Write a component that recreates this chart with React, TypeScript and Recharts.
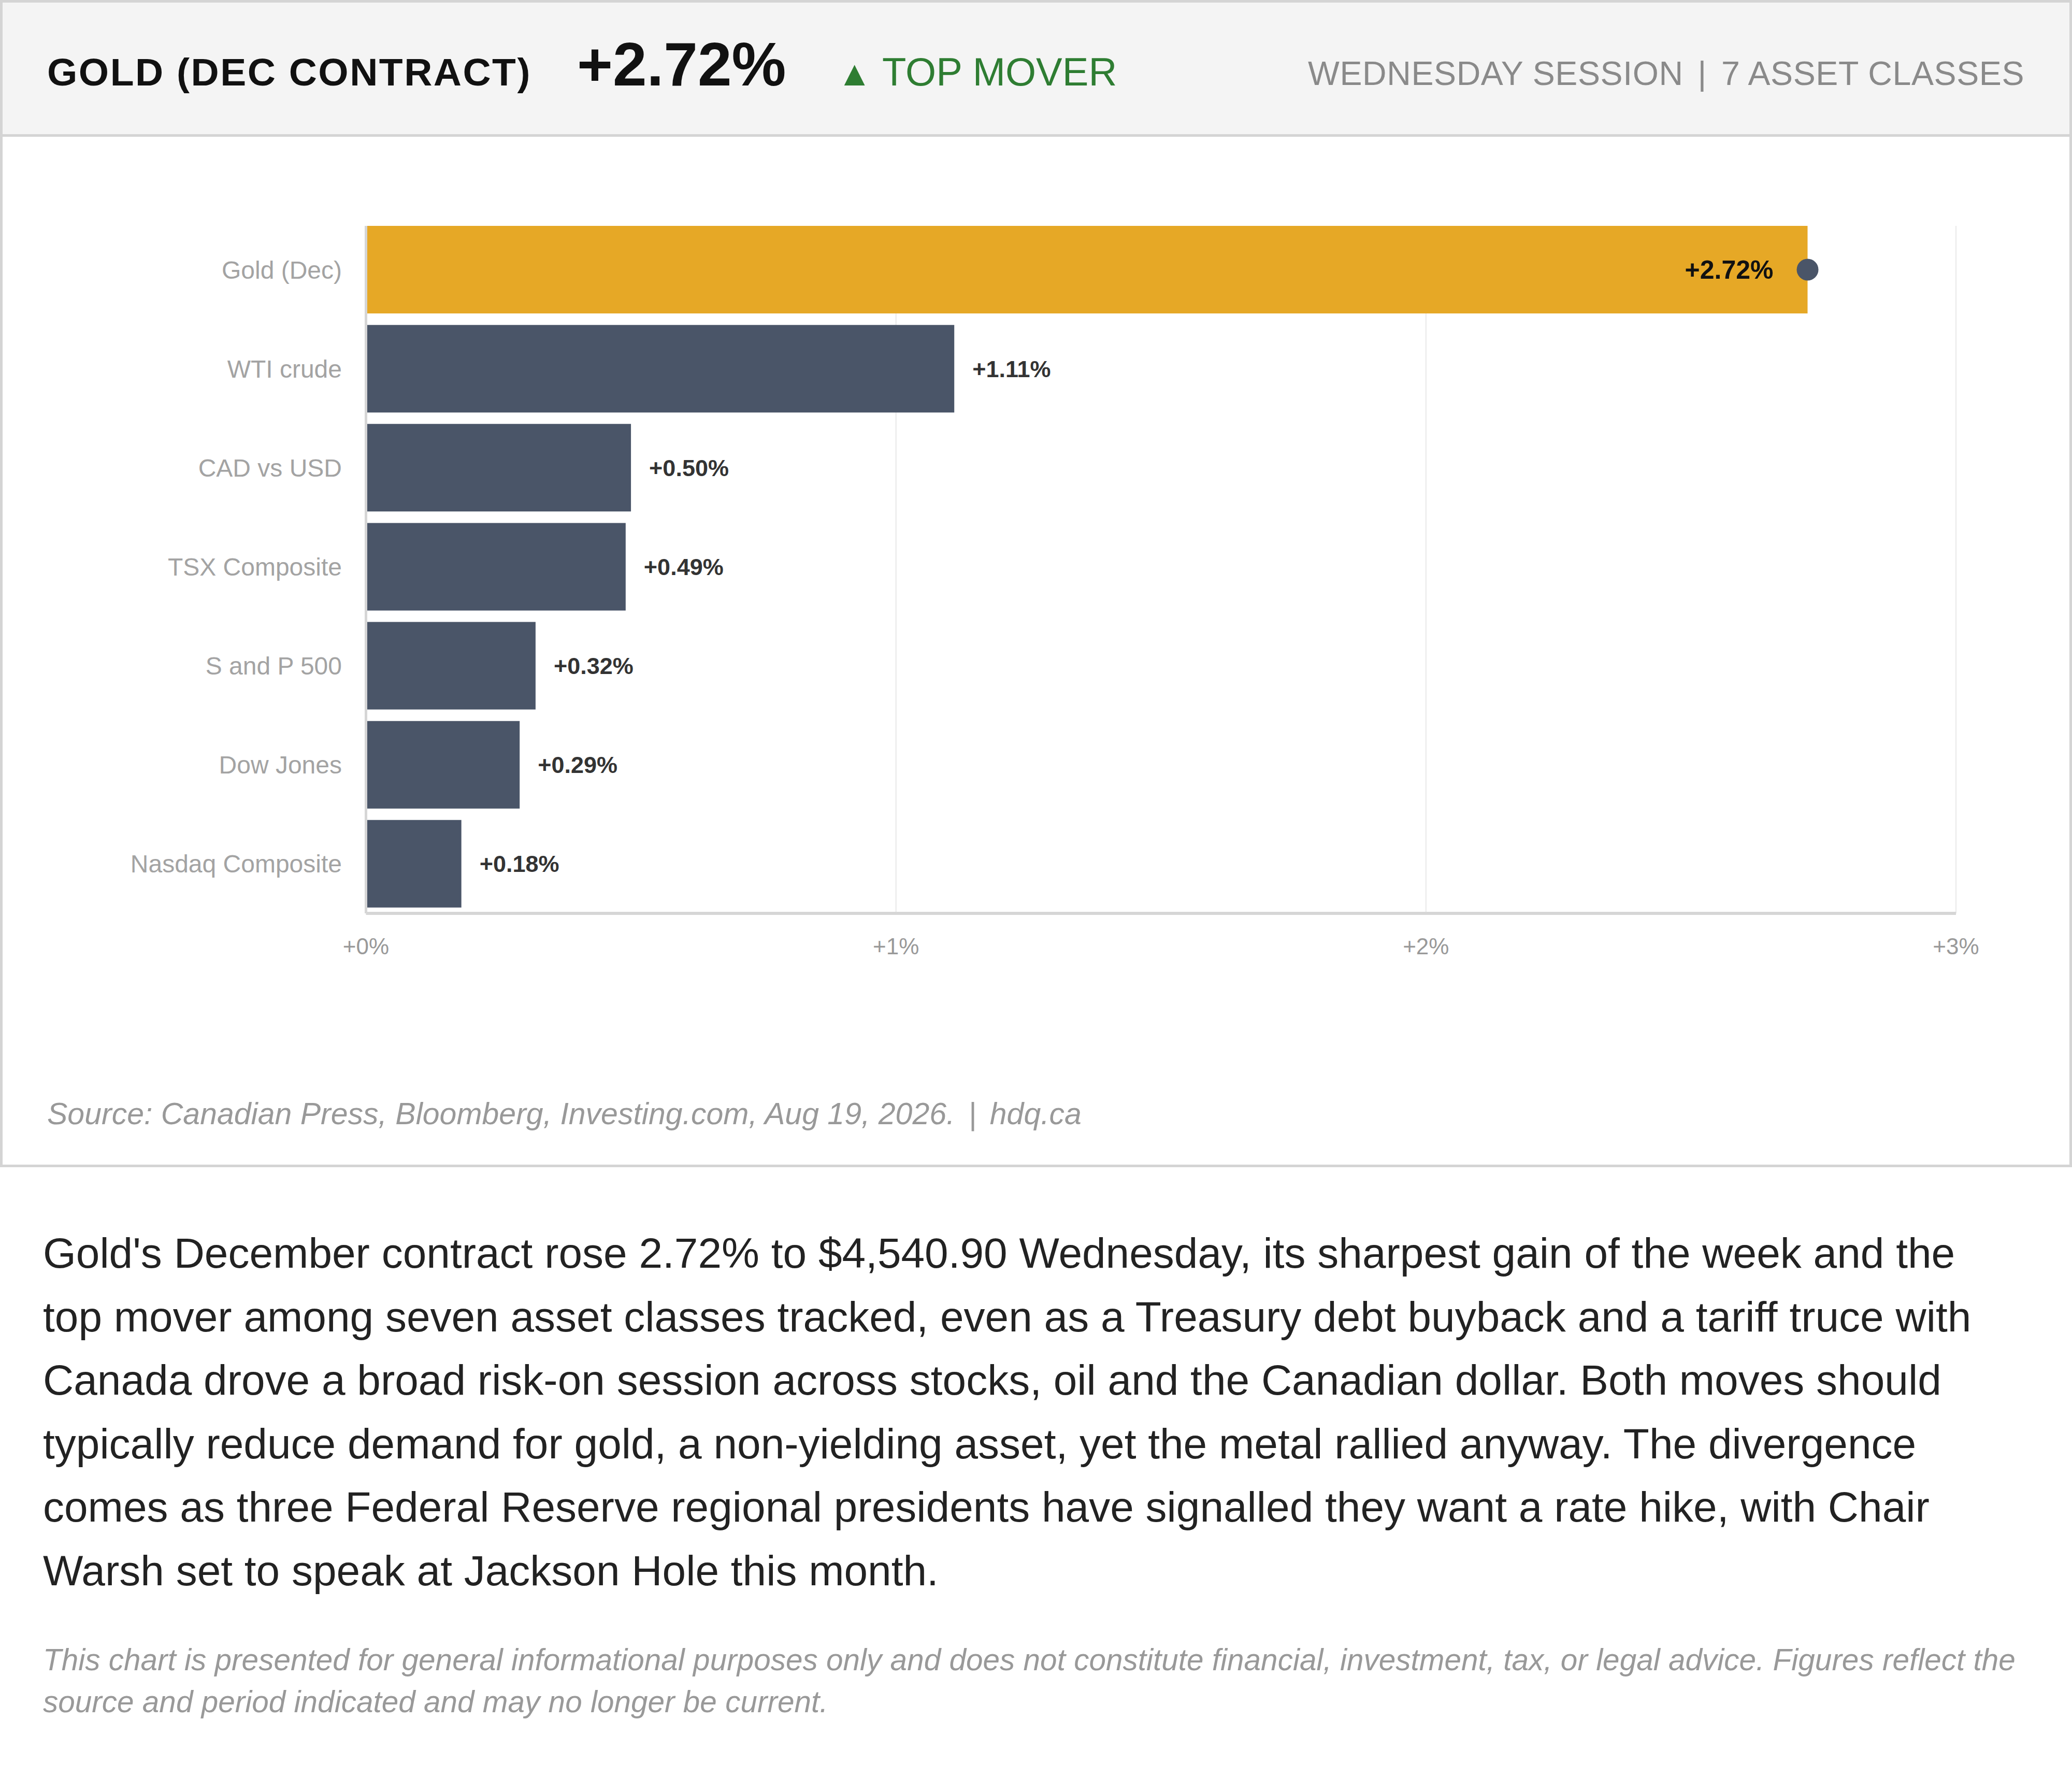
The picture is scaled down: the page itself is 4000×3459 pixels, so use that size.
import React from "react";
import {
  BarChart,
  Bar,
  XAxis,
  YAxis,
  CartesianGrid,
  Cell,
  LabelList,
} from "recharts";

// Session moves, top to bottom as drawn
const assets = [
  "Gold (Dec)",
  "WTI crude",
  "CAD vs USD",
  "TSX Composite",
  "S and P 500",
  "Dow Jones",
  "Nasdaq Composite",
];
const changes = [2.72, 1.11, 0.5, 0.49, 0.32, 0.29, 0.18];
const xTicks = [0, 1, 2, 3];
const topMover = "Gold (Dec)";

const GOLD = "#E6A826";
const SLATE = "#4A5568";
const FONT = '"Liberation Sans", Arial, Helvetica, sans-serif';

const pct = (v: number) => `+${v.toFixed(2)}%`;

// baseline -> top for a line box whose line-height equals the font size
const topFor = (baseline: number, size: number) => baseline - 0.8465 * size;

const ValueLabel = (props: any) => {
  const { x, y, width, height, index } = props;
  const cy = y + height / 2;
  const end = x + width;
  const v = changes[index];
  if (assets[index] === topMover) {
    return (
      <g>
        <text
          x={end - 66}
          y={cy}
          dy="0.355em"
          textAnchor="end"
          fontSize={50}
          fontWeight={700}
          fill="#111"
        >
          {pct(v)}
        </text>
        <circle cx={end} cy={cy} r={21} fill={SLATE} />
      </g>
    );
  }
  return (
    <text
      x={end + 35}
      y={cy}
      dy="0.355em"
      textAnchor="start"
      fontSize={45}
      fontWeight={700}
      fill="#333"
    >
      {pct(v)}
    </text>
  );
};

export default function App() {
  const data = assets.map((name, i) => ({ name, value: changes[i] }));

  return (
    <div
      style={{
        position: "relative",
        width: 4000,
        height: 3459,
        overflow: "hidden",
        background: "#fff",
        fontFamily: FONT,
      }}
    >
      <style>{"body{margin:0;}"}</style>

      {/* card frame */}
      <div
        style={{
          position: "absolute",
          left: 0,
          top: 0,
          width: 4000,
          height: 2253,
          border: "5px solid #d4d4d4",
          boxSizing: "border-box",
        }}
      />
      {/* header band */}
      <div
        style={{
          position: "absolute",
          left: 5,
          top: 5,
          width: 3990,
          height: 259,
          background: "#f4f4f4",
          borderBottom: "5px solid #d4d4d4",
          boxSizing: "border-box",
        }}
      />

      <span
        style={{
          position: "absolute",
          left: 91,
          top: topFor(165, 75),
          fontSize: 75,
          lineHeight: "75px",
          fontWeight: 700,
          letterSpacing: 2.5,
          color: "#111",
          whiteSpace: "nowrap",
        }}
      >
        GOLD (DEC CONTRACT)
      </span>
      <span
        style={{
          position: "absolute",
          left: 1114,
          top: topFor(165, 118),
          fontSize: 118,
          lineHeight: "118px",
          fontWeight: 700,
          color: "#111",
          whiteSpace: "nowrap",
        }}
      >
        +2.72%
      </span>
      <span
        style={{
          position: "absolute",
          left: 1616,
          top: topFor(165, 76),
          fontSize: 76,
          lineHeight: "76px",
          color: "#2e7d32",
          whiteSpace: "nowrap",
        }}
      >
        <span style={{ fontSize: 68 }}>▲</span> TOP MOVER
      </span>
      <span
        style={{
          position: "absolute",
          right: 92,
          top: topFor(165, 64.5),
          fontSize: 64.5,
          lineHeight: "64.5px",
          letterSpacing: 0.6,
          color: "#8a8a8a",
          whiteSpace: "nowrap",
        }}
      >
        WEDNESDAY SESSION<span style={{ margin: "0 28px" }}>|</span>7 ASSET
        CLASSES
      </span>

      {/* chart */}
      <div style={{ position: "absolute", left: 5, top: 264 }}>
        <BarChart
          layout="vertical"
          width={3990}
          height={1700}
          data={data}
          margin={{ top: 172, right: 219, bottom: 51, left: 0 }}
        >
          <CartesianGrid
            horizontal={false}
            stroke="#ececec"
            strokeWidth={2.5}
          />
          <XAxis
            type="number"
            domain={[0, 3]}
            ticks={xTicks}
            tickFormatter={(v: number) => `+${v}%`}
            axisLine={{ stroke: "#d6d6d6", strokeWidth: 6 }}
            tickLine={false}
            tickSize={0}
            tickMargin={48}
            tick={{ fill: "#999", fontSize: 44 }}
            height={150}
          />
          <YAxis
            type="category"
            dataKey="name"
            width={701.5}
            axisLine={{ stroke: "#d6d6d6", strokeWidth: 5 }}
            tickLine={false}
            tickSize={0}
            tickMargin={46.5}
            tick={{ fill: "#a3a3a3", fontSize: 48 }}
            padding={{ top: -11, bottom: 0 }}
            interval={0}
          />
          <Bar dataKey="value" barSize={169} isAnimationActive={false}>
            {data.map((d, i) => (
              <Cell key={`c-${i}`} fill={d.name === topMover ? GOLD : SLATE} />
            ))}
            <LabelList dataKey="value" content={ValueLabel} />
          </Bar>
        </BarChart>
      </div>

      <span
        style={{
          position: "absolute",
          left: 91,
          top: topFor(2171, 59),
          fontSize: 59,
          lineHeight: "59px",
          fontStyle: "italic",
          color: "#999",
          whiteSpace: "nowrap",
        }}
      >
        Source: Canadian Press, Bloomberg, Investing.com, Aug 19, 2026.
        <span style={{ margin: "0 26px" }}>|</span>hdq.ca
      </span>

      <div
        style={{
          position: "absolute",
          left: 83,
          top: 2358,
          width: 3780,
          fontSize: 82,
          lineHeight: "122.5px",
          color: "#222",
        }}
      >
        Gold's December contract rose 2.72% to $4,540.90 Wednesday, its
        sharpest gain of the week and the top mover among seven asset classes
        tracked, even as a Treasury debt buyback and a tariff truce with Canada
        drove a broad risk-on session across stocks, oil and the Canadian
        dollar. Both moves should typically reduce demand for gold, a
        non-yielding asset, yet the metal rallied anyway. The divergence comes
        as three Federal Reserve regional presidents have signalled they want a
        rate hike, with Chair Warsh set to speak at Jackson Hole this month.
      </div>

      <div
        style={{
          position: "absolute",
          left: 83,
          top: 3163,
          width: 3840,
          fontSize: 58.5,
          lineHeight: "81px",
          fontStyle: "italic",
          color: "#999",
        }}
      >
        This chart is presented for general informational purposes only and
        does not constitute financial, investment, tax, or legal advice. Figures
        reflect the source and period indicated and may no longer be current.
      </div>
    </div>
  );
}
